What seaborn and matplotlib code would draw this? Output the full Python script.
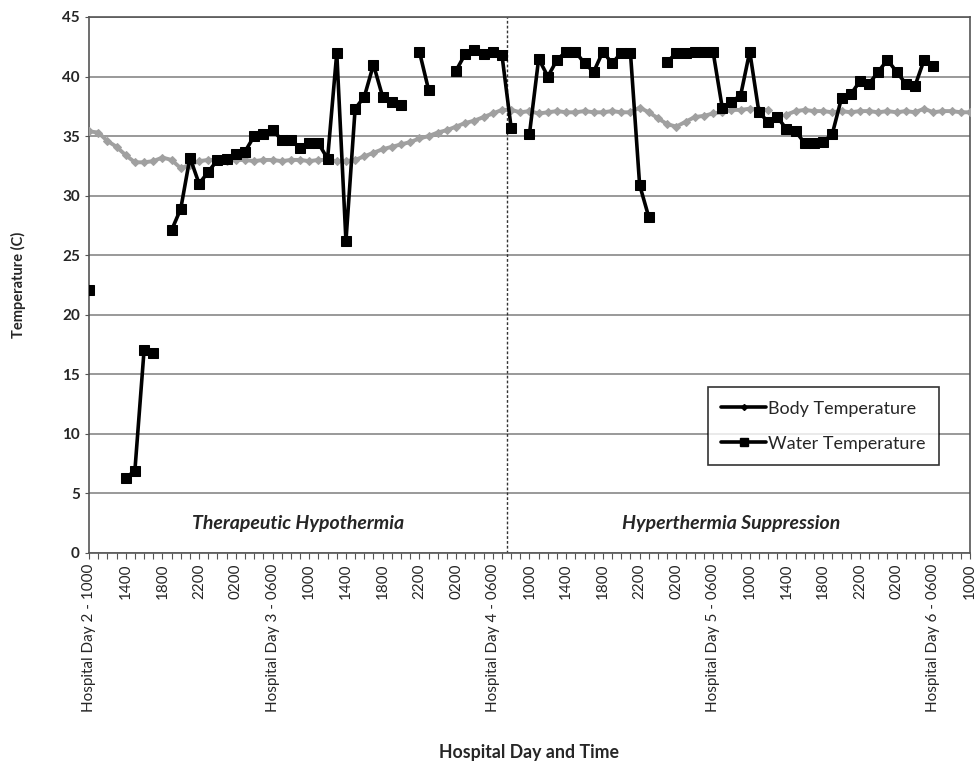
import numpy as np
import pandas as pd
import matplotlib
matplotlib.use("Agg")
import matplotlib.pyplot as plt
from matplotlib.lines import Line2D
import seaborn as sns

# hourly readings, Hospital Day 2 1000 -> Hospital Day 6 1000
hours = list(range(97))

body_temp = [35.4, 35.3, 34.6, 34.1, 33.4, 32.8, 32.8, 32.9, 33.2, 33.0,
             32.3, 32.6, 32.9, 33.0, 33.0, 32.9, 33.0, 33.0, 32.9, 33.0,
             33.0, 32.9, 33.0, 33.0, 32.9, 33.0, 33.0, 32.9, 32.9, 33.0,
             33.3, 33.6, 33.9, 34.1, 34.3, 34.5, 34.8, 35.0, 35.3, 35.5,
             35.8, 36.1, 36.3, 36.6, 36.9, 37.2, 37.2, 37.0, 37.1, 36.9,
             37.0, 37.1, 37.0, 37.0, 37.1, 37.0, 37.0, 37.1, 37.0, 37.0,
             37.4, 37.0, 36.5, 36.0, 35.8, 36.2, 36.6, 36.7, 36.9, 37.0,
             37.2, 37.2, 37.3, 37.2, 37.2, np.nan, 36.8, 37.1, 37.2, 37.1,
             37.1, 37.0, 37.1, 37.0, 37.1, 37.1, 37.0, 37.1, 37.0, 37.1,
             37.0, 37.3, 37.0, 37.1, 37.1, 37.0, 37.0]

water_temp = [22.1, np.nan, np.nan, np.nan, 6.3, 6.9, 17.0, 16.8, np.nan, 27.1,
              28.9, 33.2, 31.0, 32.0, 33.0, 33.1, 33.5, 33.7, 35.0, 35.2,
              35.5, 34.7, 34.7, 34.0, 34.4, 34.4, 33.1, 42.0, 26.2, 37.3,
              38.3, 41.0, 38.3, 37.9, 37.6, np.nan, 42.1, 38.9, np.nan, np.nan,
              40.5, 41.9, 42.2, 41.9, 42.1, 41.8, 35.7, np.nan, 35.2, 41.5,
              40.0, 41.4, 42.1, 42.1, 41.1, 40.4, 42.1, 41.1, 42.0, 42.0,
              30.9, 28.2, np.nan, 41.2, 42.0, 42.0, 42.1, 42.1, 42.1, 37.4,
              37.9, 38.4, 42.1, 37.0, 36.2, 36.6, 35.6, 35.4, 34.4, 34.4,
              34.5, 35.2, 38.2, 38.5, 39.6, 39.4, 40.4, 41.4, 40.4, 39.4,
              39.2, 41.4, 40.9, np.nan, np.nan, np.nan, np.nan]

tick_labels = ["Hospital Day 2 - 1000", "1400", "1800", "2200", "0200",
               "Hospital Day 3 - 0600", "1000", "1400", "1800", "2200", "0200",
               "Hospital Day 4 - 0600", "1000", "1400", "1800", "2200", "0200",
               "Hospital Day 5 - 0600", "1000", "1400", "1800", "2200", "0200",
               "Hospital Day 6 - 0600", "1000"]

phase_change = 45.5


def with_segments(values):
    d = pd.DataFrame({"hour": hours, "temp": values})
    d["seg"] = d["temp"].isna().cumsum()
    return d.dropna()


body = with_segments(body_temp)
water = with_segments(water_temp)

sns.set_style("white")
plt.rcParams["font.family"] = ["Lato", "DejaVu Sans"]

fig = plt.figure(figsize=(9.8, 7.62), dpi=100)
ax = fig.add_axes([0.0908, 0.2743, 0.899, 0.7034])

sns.lineplot(data=body, x="hour", y="temp", units="seg", estimator=None,
             color="#a0a0a0", lw=2.8, marker="D", markersize=4,
             markeredgecolor="#a0a0a0", ax=ax, zorder=3)
sns.lineplot(data=water, x="hour", y="temp", units="seg", estimator=None,
             color="black", lw=2.6, marker="s", markersize=7,
             markeredgecolor="black", ax=ax, zorder=4)

ax.axvline(phase_change, color="#333333", lw=1, ls=(0, (2, 1.5)), zorder=2)

ax.set_xlim(0, 96)
ax.set_ylim(0, 45)
ax.set_yticks(range(0, 46, 5))
ax.set_yticklabels([str(v) for v in range(0, 46, 5)], fontsize=11, fontweight="bold")
ax.set_xticks(range(0, 97, 4))
ax.set_xticklabels(tick_labels, rotation=90, fontsize=11)
ax.set_xticks(range(0, 97), minor=True)
ax.tick_params(axis="x", which="both", direction="out", bottom=True, length=4, width=0.8, color="#555555")
ax.tick_params(axis="y", direction="out", left=True, length=3, width=0.8, color="#555555")
ax.grid(axis="y", color="#888888", lw=1.2)
ax.set_axisbelow(True)
for side in ax.spines.values():
    side.set_color("#555555")
    side.set_linewidth(1.2)

ax.set_xlabel("Hospital Day and Time", fontsize=12.8, fontweight="bold", labelpad=23)
ax.set_ylabel("Temperature (C)", fontsize=10.5, fontweight="bold", labelpad=26)

ax.text(22.8, 2.5, "Therapeutic Hypothermia", ha="center", va="center",
        fontsize=14, fontweight="bold", style="italic")
ax.text(70, 2.5, "Hyperthermia Suppression", ha="center", va="center",
        fontsize=14, fontweight="bold", style="italic")

handles = [Line2D([], [], color="black", lw=2.6, marker="D", markersize=3),
           Line2D([], [], color="black", lw=2.6, marker="s", markersize=6)]
leg = ax.legend(handles, ["Body Temperature", "Water Temperature"],
                loc="lower right", bbox_to_anchor=(0.965, 0.164), borderaxespad=0,
                fontsize=13, frameon=True, fancybox=False, handlelength=2.5,
                handletextpad=0.1, borderpad=0.75, labelspacing=1.05)
leg.get_frame().set_edgecolor("black")
leg.get_frame().set_linewidth(1.2)

fig.savefig("out.png", dpi=100)
